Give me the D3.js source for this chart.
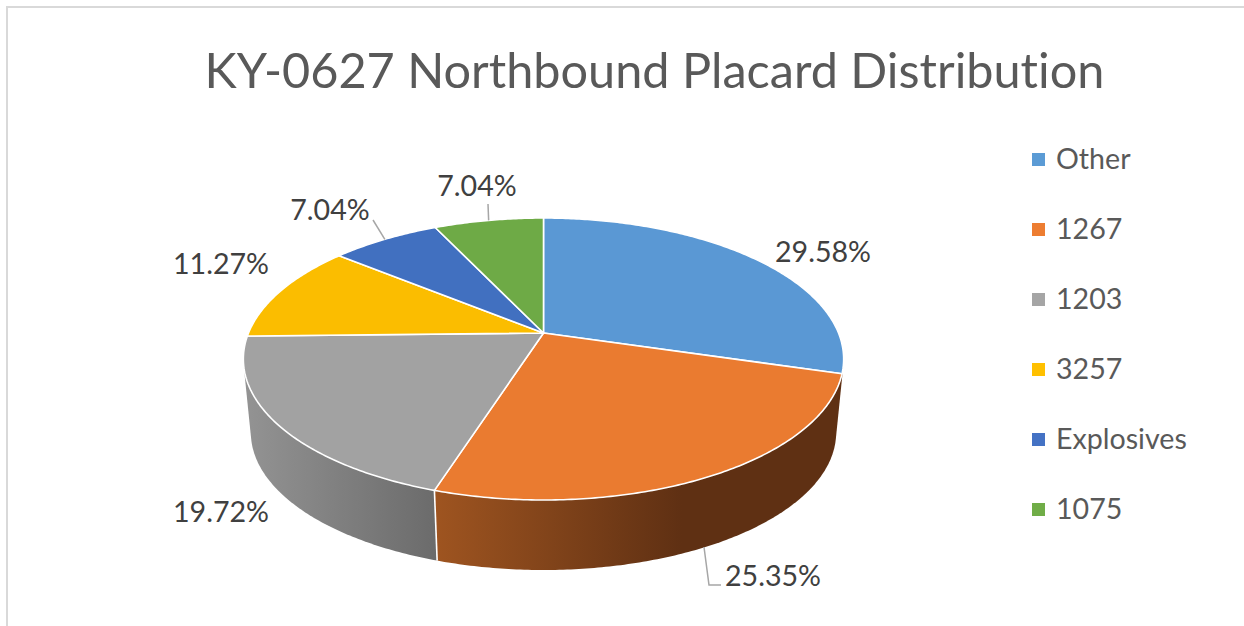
<!DOCTYPE html>
<html>
<head>
<meta charset="utf-8">
<script src="https://cdnjs.cloudflare.com/ajax/libs/d3/7.8.5/d3.min.js"></script>
<style>
html,body{margin:0;padding:0;background:#fff;overflow:hidden}
svg{display:block}
text{font-family:Lato,"Open Sans",sans-serif;font-variant-ligatures:none}
</style>
</head>
<body>
<svg id="chart" width="1244" height="626"></svg>
<script>
const titleText = "KY-0627 Northbound Placard Distribution";
const categories = ["Other","1267","1203","3257","Explosives","1075"];
const shares = [29.58,25.35,19.72,11.27,7.04,7.04];
const colors = ["#5B9BD5","#ED7D31","#A5A5A5","#FFC000","#4472C4","#70AD47"];
const topColors = ["#5a98d4","#ea7b30","#a2a2a2","#fbbd00","#4170c0","#6eaa46"];
const wallFrom = ["#37648e","#9e5420","#929292","#a87f00","#2c4b82","#4a722f"];
const wallTo = ["#2c5273","#5f3013","#6b6b6b","#8a6800","#243e6b","#3c5d26"];
const labelPos = [[823,252],[773,576],[221,512],[221,264],[330,210],[477,186]];

const svg = d3.select("#chart");

// perspective projection of the unit disc
const cx = 543.5, k = 0.1844, A = 74.8, B = 333, a = 295;
const vanishY = 3300, depthScale = 0.975;
function project(theta, r, deep) {
  const u = r * Math.sin(theta), v = -r * Math.cos(theta), w = 1 - k * v;
  let x = cx + a * u / w, y = (A * v + B) / w;
  if (deep) { x = cx + (x - cx) * depthScale; y = vanishY - (vanishY - y) * depthScale; }
  return [x, y];
}
const pie = d3.pie().sort(null).value(d => d)(shares);
const line = d3.line();
function arcPts(s, e, deep) {
  const n = Math.max(2, Math.ceil((e - s) * 90));
  return d3.range(n + 1).map(i => project(s + (e - s) * i / n, 1, deep));
}
const mid = p => (p.startAngle + p.endAngle) / 2;
const silhouette = Math.acos(-k);           // where the right rim turns away
const front = pie.filter(p => Math.cos(mid(p)) < 0);
// the first visible wall reaches back to the right rim
const wallStart = p => p === front[0] ? Math.min(p.startAngle, silhouette) : p.startAngle;

// frame: only top and left edges fall inside the picture
svg.append("rect").attr("x",7).attr("y",7).attr("width",1300).attr("height",700)
  .attr("fill","#fff").attr("stroke","#d9d9d9").attr("stroke-width",2);

svg.append("text").attr("x",654.5).attr("y",88).attr("text-anchor","middle")
  .attr("font-size",48.6).attr("fill","#595959").text(titleText);

const defs = svg.append("defs");
pie.forEach((p, i) => {
  const xs = arcPts(p.startAngle, p.endAngle, true).map(d => d[0]);
  const g = defs.append("linearGradient").attr("id","wall"+i)
    .attr("gradientUnits","userSpaceOnUse")
    .attr("x1",d3.min(xs)).attr("x2",i === 1 ? d3.min(xs) + 245 : d3.max(xs)).attr("y1",0).attr("y2",0);
  g.append("stop").attr("offset",0).attr("stop-color",wallFrom[i]);
  g.append("stop").attr("offset",1).attr("stop-color",wallTo[i]);
});

// side walls (front-facing slices only); the hull also fills the rim tangents
svg.append("g").selectAll("path").data(front).join("path")
  .attr("d", p => line(d3.polygonHull(arcPts(wallStart(p),p.endAngle,false).concat(arcPts(wallStart(p),p.endAngle,true)))) + "Z")
  .attr("fill",p => `url(#wall${p.index})`);
// white seam between adjoining walls
svg.append("g").selectAll("path").data(front.slice(1)).join("path")
  .attr("d", p => line([project(p.startAngle,1,false),project(p.startAngle,1,true)]))
  .attr("fill","none").attr("stroke","#fff").attr("stroke-width",1.6);

// top surface
svg.append("g").selectAll("path").data(pie).join("path")
  .attr("d", p => line([project(0,0,false)].concat(arcPts(p.startAngle,p.endAngle,false))) + "Z")
  .attr("fill",p => topColors[p.index])
  .attr("stroke","#fff").attr("stroke-width",1.6).attr("stroke-linejoin","round");

// leader lines
const leaders = [
  [project(mid(pie[5]),1,false),[488,204]],
  [project(mid(pie[4]),1,false),[373,220]]
];
svg.append("g").selectAll("path").data(leaders).join("path")
  .attr("d", d => line(d)).attr("fill","none").attr("stroke","#a6a6a6").attr("stroke-width",1.5);
svg.append("path").attr("d", line([[704,547],[709,585],[721,585]]))
  .attr("fill","none").attr("stroke","#a6a6a6").attr("stroke-width",1.5);

// data labels
svg.append("g").selectAll("text").data(shares).join("text")
  .attr("x",(d,i) => labelPos[i][0]).attr("y",(d,i) => labelPos[i][1] + 10)
  .attr("text-anchor","middle").attr("font-size",28.6).attr("fill","#404040")
  .text(d => d3.format(".2f")(d) + "%");

// legend
const legendY = d3.scalePoint().domain(categories).range([159,509]);
const lg = svg.append("g").selectAll("g").data(categories).join("g")
  .attr("transform", d => `translate(0,${legendY(d)})`);
lg.append("rect").attr("x",1032).attr("y",-6).attr("width",13).attr("height",13)
  .attr("fill",(d,i) => colors[i]);
lg.append("text").attr("x",1056).attr("y",10).attr("font-size",28.6).attr("fill","#595959").text(d => d);
</script>
</body>
</html>
